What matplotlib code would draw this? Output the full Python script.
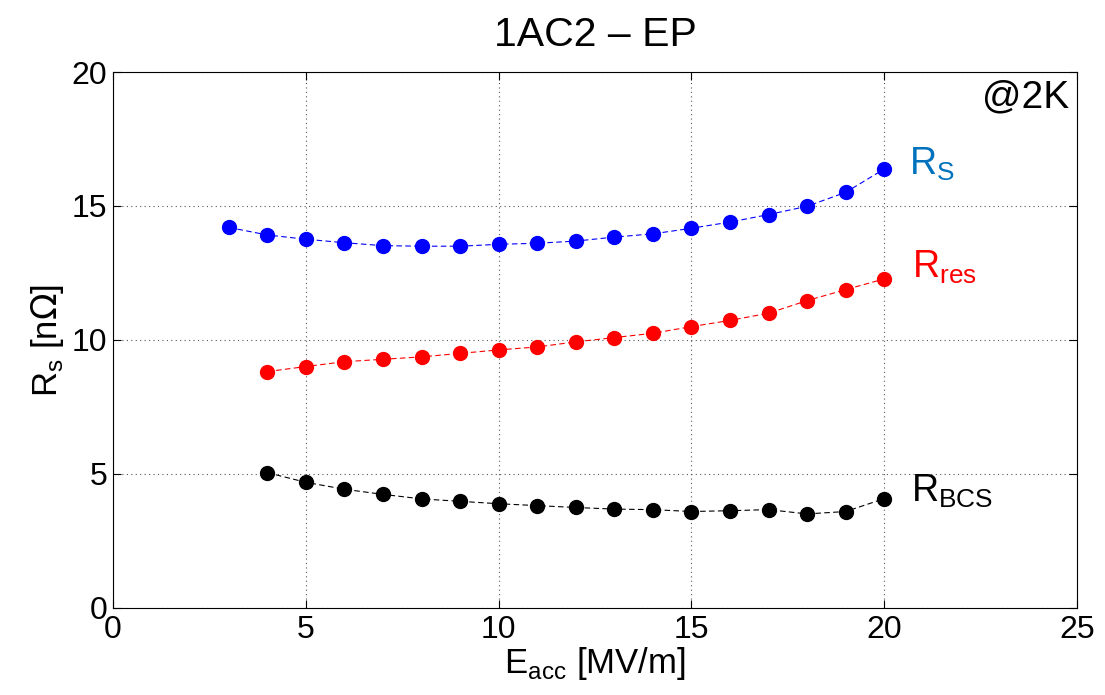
import matplotlib
matplotlib.use('Agg')
import matplotlib.pyplot as plt

plt.rcParams['font.family'] = ['Liberation Sans', 'DejaVu Sans']

# surface resistance vs accelerating field, 1AC2 after EP, at 2K
e_rs = [3, 4, 5, 6, 7, 8, 9, 10, 11, 12, 13, 14, 15, 16, 17, 18, 19, 20]
rs = [14.2, 13.92, 13.76, 13.63, 13.52, 13.5, 13.5, 13.57, 13.61, 13.69,
      13.84, 13.96, 14.17, 14.4, 14.68, 14.99, 15.51, 16.38]

e_res = [4, 5, 6, 7, 8, 9, 10, 11, 12, 13, 14, 15, 16, 17, 18, 19, 20]
rres = [8.82, 9.01, 9.19, 9.28, 9.37, 9.5, 9.63, 9.74, 9.93, 10.09,
        10.25, 10.5, 10.73, 11.0, 11.47, 11.88, 12.28]

e_bcs = [4, 5, 6, 7, 8, 9, 10, 11, 12, 13, 14, 15, 16, 17, 18, 19, 20]
rbcs = [5.05, 4.69, 4.43, 4.24, 4.07, 3.98, 3.89, 3.82, 3.75, 3.69,
        3.67, 3.6, 3.63, 3.67, 3.51, 3.6, 4.08]

fig = plt.figure(figsize=(11.05, 6.95), dpi=100)
ax = fig.add_axes([0.1023, 0.1252, 0.8724, 0.7712])

ax.plot(e_rs, rs, '--o', color='blue', lw=0.8, ms=10, dashes=(5, 3))
ax.plot(e_res, rres, '--o', color='red', lw=0.8, ms=10, dashes=(5, 3))
ax.plot(e_bcs, rbcs, '--o', color='black', lw=0.8, ms=10, dashes=(5, 3))

ax.set_xlim(0, 25)
ax.set_ylim(0, 20)
ax.set_xticks([0, 5, 10, 15, 20, 25])
ax.set_yticks([0, 5, 10, 15, 20])
ax.grid(True, color='#555555', linestyle=(0, (1, 3)), lw=0.8)
ax.tick_params(direction='in', top=True, right=True, labelsize=23, length=6)
ax.tick_params(axis='x', pad=5)
ax.tick_params(axis='y', pad=4)
for s in ax.spines.values():
    s.set_linewidth(0.8)

# curve labels
ax.text(20.65, 16.16, r'R$_\mathregular{S}$', color='#0072BD', fontsize=27, va='baseline')
ax.text(20.72, 12.31, r'R$_\mathregular{res}$', color='red', fontsize=27, va='baseline')
ax.text(20.7, 3.96, r'R$_\mathregular{BCS}$', color='black', fontsize=27, va='baseline')
ax.text(24.79, 18.69, '@2K', fontsize=28, ha='right', va='baseline')

ax.set_title('1AC2 – EP', fontsize=29.5, pad=19)
ax.set_xlabel(r'E$_\mathregular{acc}$ [MV/m]', fontsize=25, labelpad=0)
ax.set_ylabel(r'R$_\mathregular{s}$ [n$\Omega$]', fontsize=25, labelpad=4)

plt.savefig('out.png', dpi=100)
